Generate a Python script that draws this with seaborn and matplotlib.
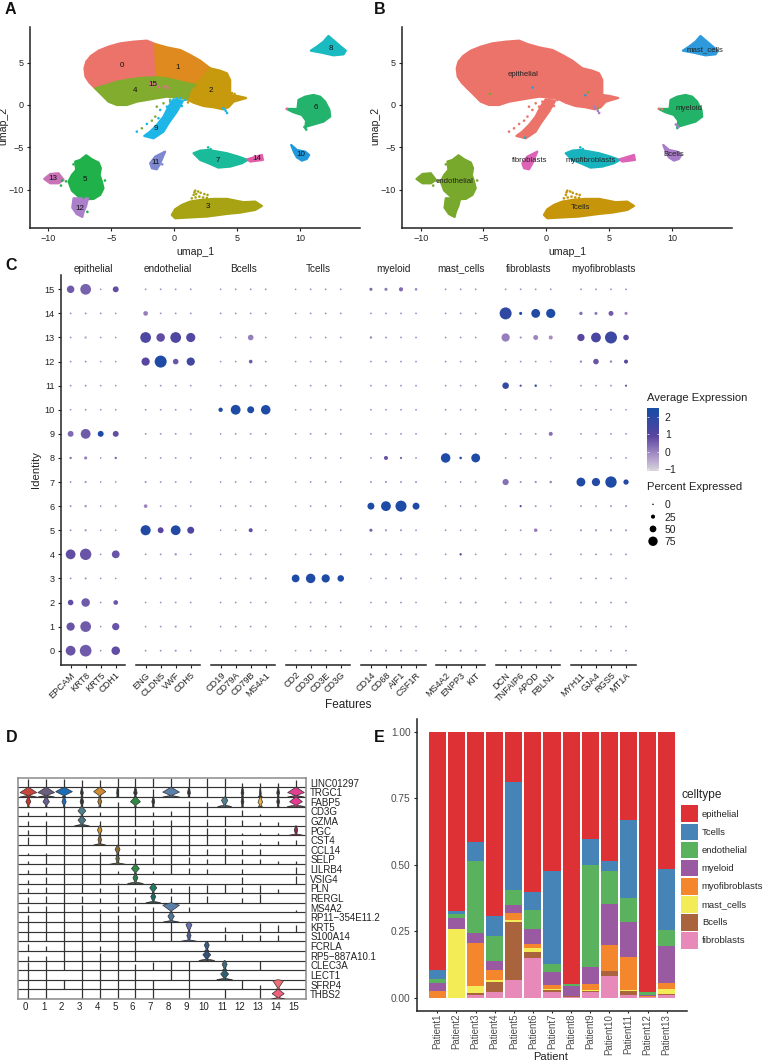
import matplotlib
matplotlib.use("Agg")
import matplotlib.pyplot as plt
import matplotlib.colors as mcolors
import numpy as np
import pandas as pd
import seaborn as sns
from matplotlib.cm import ScalarMappable
from matplotlib.patches import Patch

# umap outlines (umap_1, umap_2)
OUTLINE_0 = [(-7.13, 4.32), (-6.99, 5.10), (-6.62, 5.77), (-6.01, 6.40), (-5.22, 6.87), (-4.29, 7.26), (-3.23, 7.46), (-2.17, 7.58),
             (-1.51, 7.18), (-1.43, 3.26), (-2.44, 3.22), (-3.50, 3.02), (-4.56, 2.75), (-5.35, 2.36), (-6.28, 1.96), (-6.73, 2.63), (-7.05, 3.34)]
OUTLINE_1 = [(-1.51, 7.18), (-0.58, 6.79), (0.48, 6.48), (1.27, 5.89), (2.07, 5.22), (2.86, 4.32), (2.2, 3.14), (1.67, 2.36),
             (0.48, 2.75), (-0.58, 3.14), (-1.43, 3.26)]
OUTLINE_2 = [(2.86, 4.32), (3.66, 4.04), (4.19, 3.73), (4.45, 2.94), (4.45, 1.18), (5.03, 1.06), (5.72, 0.82), (4.72, 0.39), (4.32, -0.27),
             (3.87, -0.51), (3.13, -0.27), (2.33, -0.12), (1.54, 0.27), (1.01, 0.67), (1.27, 1.77), (1.67, 2.36), (2.2, 3.14)]
OUTLINE_3 = [(-0.19, -12.96), (0.08, -12.29), (0.61, -11.78), (1.27, -11.39), (2.07, -11.19), (3.13, -11.07), (4.19, -11.07), (5.51, -11.46),
             (6.44, -11.39), (6.97, -11.90), (6.44, -12.37), (5.25, -12.68), (4.19, -12.84), (2.6, -13.15), (1.54, -13.23), (0.08, -13.35)]
OUTLINE_4 = [(-6.28, 1.96), (-5.35, 2.36), (-4.56, 2.75), (-3.50, 3.02), (-2.44, 3.22), (-1.43, 3.26), (-0.58, 3.14), (0.48, 2.75), (1.67, 2.36),
             (1.27, 1.77), (1.01, 0.67), (0.21, 0.9), (-0.58, 0.98), (-1.38, 0.79), (-2.17, 0.59), (-2.97, 0.39), (-3.76, 0.0), (-4.56, 0.0),
             (-5.22, 0.39), (-5.75, 1.18)]
OUTLINE_5 = [(-8.40, -9.03), (-8.13, -8.25), (-7.79, -7.66), (-7.87, -6.67), (-7.47, -6.48), (-6.99, -5.93), (-6.54, -6.40), (-6.01, -6.79),
             (-5.83, -7.46), (-5.93, -8.25), (-5.75, -9.03), (-5.62, -9.82), (-5.88, -10.6), (-6.41, -11.07), (-7.07, -11.11), (-7.60, -10.8), (-8.13, -10.09)]
OUTLINE_6 = [(8.95, -0.47), (9.80, -0.47), (9.88, 0.59), (10.41, 0.98), (11.07, 1.18), (11.6, 0.98), (12.0, 0.39), (12.34, -0.59), (12.4, -1.37),
             (11.87, -1.96), (10.94, -2.36), (10.49, -2.55), (10.41, -2.75), (10.49, -1.85), (10.15, -1.18), (9.48, -0.86)]
OUTLINE_7 = [(1.54, -5.69), (2.07, -5.38), (2.73, -5.3), (4.19, -5.69), (5.11, -6.09), (5.83, -6.48), (5.38, -6.87), (4.45, -7.26), (3.52, -7.38),
             (2.73, -6.87), (2.07, -6.48)]
OUTLINE_8 = [(10.86, 6.4), (11.34, 6.87), (11.87, 7.46), (12.26, 8.13), (12.79, 7.46), (13.19, 6.95), (13.64, 6.4), (13.46, 5.97), (12.66, 5.85), (11.74, 6.16)]
OUTLINE_9 = [(-0.05, 0.67), (0.69, 0.47), (0.21, -0.79), (-0.45, -2.16), (-0.85, -3.14), (-1.64, -3.93), (-2.38, -3.65), (-1.91, -3.14), (-1.38, -2.36),
             (-0.85, -1.37), (-0.45, -0.2)]
OUTLINE_10 = [(9.3, -4.71), (9.75, -5.3), (10.41, -5.5), (10.73, -5.89), (10.54, -6.36), (10.15, -6.56), (9.75, -6.17), (9.54, -5.61)]
OUTLINE_11 = [(-1.91, -6.87), (-1.51, -6.09), (-0.72, -5.5), (-1.11, -6.87), (-1.38, -7.58), (-1.77, -7.46)]
OUTLINE_12 = [(-8.0, -11.0), (-6.85, -11.0), (-7.0, -11.9), (-7.2, -12.6), (-7.3, -13.2), (-7.75, -12.85), (-8.1, -12.1)]
OUTLINE_13 = [(-10.33, -8.72), (-9.85, -8.13), (-9.19, -8.05), (-8.79, -8.83), (-9.19, -9.23), (-9.85, -9.23)]
OUTLINE_14 = [(5.83, -6.4), (6.97, -5.89), (7.05, -6.48), (6.04, -6.67)]
OUTLINES = [OUTLINE_0, OUTLINE_1, OUTLINE_2, OUTLINE_3, OUTLINE_4, OUTLINE_5, OUTLINE_6, OUTLINE_7,
            OUTLINE_8, OUTLINE_9, OUTLINE_10, OUTLINE_11, OUTLINE_12, OUTLINE_13, OUTLINE_14]

# loose cells around the clusters: (cluster, umap_1, umap_2)
STRAY_CELLS = [
    (4, -1.38, -0.2), (4, -0.85, 0.2), (4, -1.5, -1.37), (4, -1.77, -1.85), (4, -2.57, -2.75), (4, -0.32, 0.6),
    (9, -0.32, 0.39), (9, 0.21, 0.79), (9, 0.48, 0.79), (9, 0.87, 0.59), (9, -1.11, -0.59), (9, -2.17, -2.24), (9, -2.97, -3.14),
    (9, -1.25, -1.57), (9, -0.58, -0.2), (9, -0.19, 0.0), (9, 0.61, -0.12), (9, 4.0, -0.5), (9, 4.1, -0.7), (9, 4.2, -0.95), (9, 3.9, -0.4),
    (3, 1.67, -10.1), (3, 1.9, -10.2), (3, 2.1, -10.35), (3, 2.4, -10.5), (3, 2.65, -10.6), (3, 1.55, -10.6), (3, 1.7, -10.9),
    (3, 2.0, -10.8), (3, 2.3, -10.9), (3, 2.6, -10.95), (3, 1.6, -10.3), (3, 1.4, -11.0), (3, 1.75, -10.5),
    (5, -8.9, -8.9), (5, -8.6, -9.0), (5, -9.0, -9.5), (5, -7.2, -10.9), (5, -5.5, -8.9), (5, -6.9, -12.6), (5, -8.0, -7.0),
    (15, -1.2, 2.1), (15, -0.7, 2.2), (15, -0.5, 2.0), (15, -1.8, 2.3), (15, -1.5, 2.5), (15, -1.9, 2.6), (15, 8.95, -0.45),
    (2, 5.0, 1.0), (2, 4.8, 1.3), (2, 4.6, 1.4), (2, 1.1, 0.3), (7, 2.7, -5.0), (7, 2.9, -5.2), (6, 10.5, -2.9), (6, 10.35, -2.6),
    (11, -0.8, -5.6), (11, -1.2, -7.1), (11, -0.95, -7.0),
]
STRAY_CELLS_B = [
    ("epithelial", -1.38, -0.2), ("epithelial", -0.85, 0.2), ("epithelial", -0.32, 0.39), ("epithelial", 0.21, 0.79), ("epithelial", 0.48, 0.79),
    ("epithelial", 0.87, 0.59), ("epithelial", -1.11, -0.59), ("epithelial", -2.17, -2.24), ("epithelial", -2.97, -3.14), ("epithelial", -0.58, -0.2),
    ("epithelial", -0.19, 0.0), ("epithelial", 0.61, -0.12), ("epithelial", -1.5, -1.37), ("epithelial", -1.77, -1.85), ("epithelial", -2.57, -2.75),
    ("endothelial", -4.5, 1.3), ("endothelial", 3.3, 1.5), ("endothelial", 4.1, -0.4), ("mast_cells", -1.1, 2.05), ("mast_cells", 3.1, 1.15),
    ("myofibroblasts", -1.7, -3.85), ("Bcells", 3.9, -0.4), ("Bcells", 4.1, -0.7), ("Bcells", 4.2, -0.95), ("Bcells", 3.8, -0.2),
    ("Tcells", 1.67, -10.1), ("Tcells", 1.9, -10.2), ("Tcells", 2.1, -10.35), ("Tcells", 2.4, -10.5), ("Tcells", 2.65, -10.6), ("Tcells", 1.55, -10.6),
    ("Tcells", 1.7, -10.9), ("Tcells", 2.0, -10.8), ("Tcells", 2.3, -10.9), ("Tcells", 2.6, -10.95), ("Tcells", 1.6, -10.3), ("Tcells", 1.4, -11.0),
    ("endothelial", -8.9, -8.9), ("endothelial", -8.6, -9.0), ("endothelial", -9.0, -9.5), ("endothelial", -5.5, -8.9), ("endothelial", -8.0, -7.0),
    ("epithelial", 8.95, -0.45), ("epithelial", 9.2, -0.5), ("Bcells", 10.3, -2.3), ("Bcells", 10.5, -2.6), ("Bcells", 10.4, -2.4),
    ("myofibroblasts", 2.7, -5.0), ("myofibroblasts", 2.9, -5.2),
]

CLUSTER_COLORS = ["#EC736A", "#DE8A1E", "#C69A0C", "#A8A312", "#82AC2E", "#20B14A", "#24B36C", "#1ABB9B",
                  "#1ABAC1", "#1EB6E6", "#2198DC", "#7D88D0", "#AB7FC9", "#C873B8", "#E25CA8", "#F064A0"]
CLUSTER_LABEL_POS = {"0": (-4.13, 4.71), "1": (0.29, 4.4), "15": (-1.67, 2.47), "4": (-3.13, 1.73), "2": (2.91, 1.65), "9": (-1.46, -2.75),
                     "6": (11.26, -0.31), "8": (12.48, 6.64), "10": (10.07, -5.81), "7": (3.5, -6.56), "14": (6.57, -6.36), "11": (-1.51, -6.75),
                     "13": (-9.67, -8.72), "5": (-7.07, -8.83), "12": (-7.52, -12.17), "3": (2.68, -11.97)}

CELLTYPE_COLORS = {"epithelial": "#EC736A", "Tcells": "#C6950A", "endothelial": "#78A82C", "myeloid": "#22B268",
                   "myofibroblasts": "#17B4BE", "mast_cells": "#2E9ADC", "Bcells": "#A87CC8", "fibroblasts": "#DE62B6"}
CELLTYPE_CLUSTERS = {"epithelial": [0, 1, 2, 4, 9], "Tcells": [3], "endothelial": [5, 12, 13], "myeloid": [6],
                     "myofibroblasts": [7], "mast_cells": [8], "Bcells": [10], "fibroblasts": [11, 14]}
CELLTYPE_LABEL_POS = {"epithelial": (-1.86, 3.65), "mast_cells": (12.59, 6.56), "myeloid": (11.34, -0.39), "Bcells": (10.12, -5.89),
                      "fibroblasts": (-1.35, -6.6), "myofibroblasts": (3.56, -6.6), "endothelial": (-7.28, -9.07), "Tcells": (2.74, -12.05)}

# dot plot
DOT_GROUPS = ["epithelial", "endothelial", "Bcells", "Tcells", "myeloid", "mast_cells", "fibroblasts", "myofibroblasts"]
DOT_GENES = [["EPCAM", "KRT8", "KRT5", "CDH1"], ["ENG", "CLDN5", "VWF", "CDH5"], ["CD19", "CD79A", "CD79B", "MS4A1"],
             ["CD2", "CD3D", "CD3E", "CD3G"], ["CD14", "CD68", "AIF1", "CSF1R"], ["MS4A2", "ENPP3", "KIT"],
             ["DCN", "TNFAIP6", "APOD", "FBLN1"], ["MYH11", "GJA4", "RGS5", "MT1A"]]
# rows are identities 0..15, columns follow DOT_GENES
DOT_PCT = [
    [79, 97, 2, 67, 3, 3, 5, 3, 2, 3, 3, 2, 2, 3, 3, 3, 3, 3, 3, 3, 3, 5, 4, 3, 3, 2, 4, 3, 3, 3, 3],
    [64, 88, 2, 55, 2, 3, 5, 3, 2, 3, 3, 2, 2, 3, 3, 3, 3, 3, 3, 3, 3, 5, 4, 3, 4, 3, 4, 3, 3, 3, 3],
    [39, 67, 2, 30, 2, 2, 3, 3, 2, 3, 2, 2, 2, 3, 3, 3, 2, 3, 3, 2, 3, 5, 4, 3, 3, 3, 4, 3, 3, 3, 3],
    [3, 5, 2, 2, 3, 3, 3, 3, 2, 3, 5, 4, 60, 76, 64, 48, 2, 3, 5, 2, 3, 4, 3, 3, 3, 3, 3, 3, 3, 3, 2],
    [79, 94, 2, 60, 3, 3, 8, 3, 2, 3, 3, 2, 2, 3, 3, 3, 3, 3, 3, 3, 3, 8, 3, 3, 3, 3, 4, 3, 3, 3, 3],
    [3, 6, 2, 2, 82, 42, 79, 52, 2, 3, 24, 3, 2, 3, 3, 3, 15, 6, 5, 3, 3, 3, 3, 3, 3, 20, 3, 5, 6, 6, 5],
    [4, 10, 2, 3, 21, 3, 3, 3, 2, 3, 3, 3, 2, 3, 3, 3, 52, 79, 91, 52, 3, 3, 3, 3, 6, 4, 3, 3, 3, 4, 5],
    [3, 6, 2, 2, 5, 3, 3, 3, 2, 3, 3, 3, 2, 3, 3, 3, 4, 5, 4, 4, 3, 3, 3, 45, 5, 7, 9, 70, 64, 94, 36],
    [8, 15, 2, 8, 3, 3, 3, 3, 2, 3, 3, 3, 2, 3, 3, 3, 3, 24, 7, 3, 76, 10, 70, 3, 3, 3, 3, 3, 3, 3, 3],
    [42, 79, 42, 42, 3, 3, 3, 3, 2, 3, 3, 3, 2, 3, 3, 3, 3, 3, 3, 3, 3, 3, 3, 3, 3, 3, 24, 3, 3, 3, 3],
    [2, 3, 2, 2, 3, 3, 3, 3, 27, 79, 52, 76, 2, 3, 3, 3, 3, 3, 3, 3, 3, 3, 3, 3, 3, 3, 3, 3, 3, 3, 2],
    [3, 4, 2, 2, 3, 3, 3, 3, 3, 3, 3, 3, 2, 3, 3, 3, 3, 3, 3, 3, 3, 3, 3, 48, 7, 9, 3, 3, 3, 3, 6],
    [3, 4, 2, 2, 64, 100, 39, 64, 2, 3, 21, 3, 2, 3, 3, 3, 3, 3, 3, 3, 3, 3, 3, 3, 3, 3, 2, 7, 39, 8, 24],
    [3, 10, 2, 2, 88, 67, 88, 73, 2, 3, 39, 3, 2, 3, 3, 3, 8, 4, 3, 3, 3, 3, 3, 64, 5, 33, 24, 55, 79, 100, 39],
    [3, 4, 3, 2, 30, 3, 3, 3, 3, 3, 3, 3, 2, 3, 3, 3, 3, 3, 3, 3, 3, 3, 3, 100, 15, 70, 73, 18, 15, 33, 15],
    [57, 88, 2, 42, 3, 3, 3, 3, 2, 3, 3, 3, 2, 3, 3, 3, 15, 15, 25, 10, 3, 3, 3, 3, 3, 3, 3, 3, 3, 3, 3],
]
l = 0.0  # faint background expression level
DOT_AVG = [
    [.8, .7, l, .9, l, l, l, l, l, l, l, l, l, l, l, l, l, l, l, l, l, l, l, l, l, l, l, l, l, l, l],
    [.8, .7, l, .8, l, l, l, l, l, l, l, l, l, l, l, l, l, l, l, l, l, l, l, l, l, l, l, l, l, l, l],
    [.9, .7, l, .8, l, l, l, l, l, l, l, l, l, l, l, l, l, l, l, l, l, l, l, l, l, l, l, l, l, l, l],
    [l, l, l, l, l, l, l, l, l, l, l, l, 2.4, 2.4, 2.4, 2.4, l, l, l, l, l, l, l, l, l, l, l, l, l, l, l],
    [.9, .8, l, .8, l, l, l, l, l, l, l, l, l, l, l, l, l, l, l, l, l, 1.2, l, l, l, l, l, l, l, l, l],
    [l, l, l, l, 2.3, 1.0, 2.3, 1.3, l, l, .9, l, l, l, l, l, .6, l, l, l, l, l, l, l, l, .2, l, l, l, l, l],
    [l, -.2, l, l, .1, l, l, l, l, l, l, l, l, l, l, l, 2.4, 2.4, 2.4, 2.4, l, l, l, l, 1.5, l, l, l, l, l, l],
    [l, l, l, l, l, l, l, l, l, l, l, l, l, l, l, l, l, l, l, l, l, l, l, .4, l, l, .2, 2.3, 2.2, 2.4, 2.2],
    [.4, .2, l, .6, l, l, l, l, l, l, l, l, l, l, l, l, l, .8, .6, l, 2.4, 2.0, 2.4, l, l, l, l, l, l, l, l],
    [.5, .7, 2.4, .9, l, l, l, l, l, l, l, l, l, l, l, l, l, l, l, l, l, l, l, l, l, l, .4, l, l, l, l],
    [l, l, l, l, l, l, l, l, 2.4, 2.4, 2.4, 2.4, l, l, l, l, l, l, l, l, l, l, l, l, l, l, l, l, l, l, l],
    [l, l, l, l, l, l, l, l, l, l, l, l, l, l, l, l, l, l, l, l, l, l, l, 1.9, .9, 1.9, l, l, l, l, .9],
    [l, l, l, l, 1.0, 2.4, .8, 1.6, l, l, .7, l, l, l, l, l, l, l, l, l, l, l, l, l, l, l, l, .2, .8, .2, 1.0],
    [l, -.5, l, l, 1.3, .9, 1.3, 1.2, l, l, .2, l, l, l, l, l, .2, l, l, l, l, l, l, .2, .1, .1, 0, 1.0, 1.4, 1.7, 1.1],
    [l, l, l, l, .2, l, l, l, l, l, l, l, l, l, l, l, l, l, l, l, l, l, l, 2.0, 2.4, 2.3, 2.4, .4, .3, .7, .2],
    [.7, .6, l, .9, l, l, l, l, l, l, l, l, l, l, l, l, .5, .3, .5, .2, l, l, l, l, l, l, l, l, l, l, l],
]
PCT_LEVELS = [0, 25, 50, 75]
EXPR_COLORS = ["#DAD6DE", "#A48CC4", "#5A46A0", "#1A4BA5"]
EXPR_STOPS = [-1, 0, 1, 2.5]

# stacked violins: stem height (fraction of row) for clusters 0..15
VIOLIN_GENES = ["LINC01297", "TRGC1", "FABP5", "CD3G", "GZMA", "PGC", "CST4", "CCL14", "SELP", "LILRB4", "VSIG4", "PLN", "RERGL",
                "MS4A2", "RP11\u2212354E11.2", "KRT5", "S100A14", "FCRLA", "RP5\u2212887A10.1", "CLEC3A", "LECT1", "SFRP4", "THBS2"]
VIOLIN_STEMS = [
    [.9, .9, .9, .8, .8, 1, 1, 1, 1, 1, 1, 1, .5, .4, .4, .8],
    [1, 1, 1, .5, 1, .9, .9, .8, 1, .9, 1, 1, .5, .5, .5, 1],
    [1, 1, 1, .5, 1, .5, 1, .7, 0, .6, .5, 1, .6, 1, .6, 1],
    [.4, .4, 1, 1, .4, 1, 1, .4, .5, 1, 1, 0, .6, .2, 0, 0],
    [.5, .5, 1, 1, .5, 1, 1, .6, .6, 1, .7, 1, .6, .4, .4, 0],
    [.6, 1, 1, 1, 1, 1, .7, .8, 1, 1, .8, .8, .3, .3, .3, 1],
    [.8, 1, 1, 1, 1, 1, .7, .8, 1, 1, 1, 1, .5, .2, .4, .5],
    [.2, .2, 1, 1, .3, 1, .6, 1, 1, 1, .6, .7, .6, .6, 0, 0],
    [.3, 1, 1, 1, 1, 1, .7, .8, 1, .8, .6, 1, .5, .6, .3, .3],
    [.4, .7, 1, 1, 1, .3, 1, .3, 1, .6, .5, 0, .5, 0, 0, .7],
    [.4, .7, 1, 1, 1, .1, 1, .1, 0, 0, 0, 0, .7, 0, 0, .8],
    [.5, .6, 1, 1, .5, .8, .5, 1, .5, .7, .8, 1, .6, .9, .4, 0],
    [.6, .7, 1, .7, .5, .9, .6, 1, .7, 1, .7, 0, .5, .9, 0, 0],
    [.7, .7, 1, .8, .4, .7, .7, .6, 1, .6, 0, 0, 0, 0, 0, .2],
    [.7, 1, 1, 1, .9, .7, .7, 1, 1, 0, 0, 0, 0, 0, 0, 0],
    [1, 1, 1, 1, .9, 1, 1, 1, 1, 1, 0, .5, 0, .9, .7, .7],
    [1, 1, 1, 1, 1, 1, 1, 1, 1, 1, 0, .8, .8, .6, .6, 0],
    [.7, .5, 1, 1, .5, 1, 1, 0, 0, 0, 1, 0, 0, 0, 0, 0],
    [.5, .5, 1, 1, .8, 1, 1, 0, 0, 0, 1, 0, 0, 0, 0, 0],
    [.8, 1, 1, 1, 1, 1, .6, .8, 1, 1, 0, 1, 0, 1, 0, 0],
    [1, 1, 0, 1, 1, 1, 1, 0, 1, 1, 0, 1, 0, 0, 0, 0],
    [1, 1, 1, 1, 1, 1, 1, 1, 0, 1, 0, 0, 1, .5, 1, 0],
    [1, 1, 0, 1, 1, 1, 1, 1, 0, 1, 0, 1, 0, 1, 1, 0],
]
# bulges: row, cluster, colour, half width at the base, half width of the body, body height
VIOLIN_BULGES = [
    (1, 0, "#C8453C", .47, .47, .45), (1, 1, "#6A5E7E", .47, .47, .45), (1, 2, "#1B6EB5", .1, .47, .55), (1, 4, "#D08A30", .05, .34, .55),
    (1, 8, "#5A7FA8", .47, .47, .5), (1, 15, "#E0408F", .47, .47, .45), (1, 5, "#333333", .05, .05, .4), (1, 6, "#333333", .05, .1, .4), (1, 9, "#333333", .05, .08, .4),
    (1, 3, "#333333", .05, .08, .4), (1, 12, "#333333", .05, .08, .4), (1, 13, "#333333", .12, .05, .3), (1, 14, "#333333", .05, .08, .4),
    (2, 0, "#C8352C", .05, .14, .5), (2, 1, "#6A5E8E", .05, .18, .5), (2, 2, "#1B6EB5", .05, .12, .5), (2, 3, "#333333", .05, .1, .5), (2, 4, "#A87A30", .05, .11, .5),
    (2, 6, "#2E8B45", .05, .28, .5), (2, 7, "#333333", .05, .08, .5), (2, 11, "#4F8090", .4, .18, .65), (2, 12, "#333333", .05, .08, .5),
    (2, 13, "#E8B040", .12, .13, .45), (2, 14, "#333333", .05, .08, .5), (2, 15, "#E83A90", .5, .36, .5),
    (3, 3, "#4F8090", .05, .22, .55), (4, 3, "#4F7585", .42, .22, .6),
    (5, 4, "#C89030", .05, .13, .55), (5, 15, "#8A2A4A", .45, .1, .55), (6, 4, "#8A6A2E", .35, .1, .55),
    (7, 5, "#8A6A2E", .05, .14, .55), (8, 5, "#6A6A3E", .45, .1, .6),
    (9, 6, "#2E8B45", .05, .22, .55), (10, 6, "#2E7B45", .45, .14, .6),
    (11, 7, "#1B7A62", .05, .2, .55), (12, 7, "#1B6A62", .42, .14, .65),
    (13, 8, "#5A7FA8", .05, .47, .75), (14, 8, "#4F7598", .45, .18, .6),
    (15, 9, "#6A70B0", .05, .17, .72), (16, 9, "#4F5F98", .45, .12, .6),
    (17, 10, "#3B5A8A", .12, .14, .6), (18, 10, "#34507A", .45, .22, .6),
    (19, 11, "#3F6B7A", .12, .14, .6), (20, 11, "#2F6070", .45, .22, .6),
    (21, 14, "#F0707A", .1, .3, .9), (22, 14, "#F0607A", .4, .34, .55),
]
VIOLIN_XLABELS = [str(i) for i in range(16)]

# composition per patient
PATIENTS = [f"Patient{i}" for i in range(1, 14)]
CELLTYPES = ["epithelial", "Tcells", "endothelial", "myeloid", "myofibroblasts", "mast_cells", "Bcells", "fibroblasts"]
STACK_COLORS = ["#DD3136", "#4683B7", "#5AB25E", "#9A5AA1", "#F4862D", "#F3EC57", "#A9633D", "#E78AB9"]
epithelial = [.897, .674, .415, .693, .188, .604, .522, .948, .403, .487, .33, .978, .517]
tcells = [.034, .011, .069, .075, .405, .066, .353, .001, .099, .038, .296, .001, .228]
endothelial = [.015, .015, .271, .093, .057, .072, .027, .006, .384, .122, .088, .011, .059]
myeloid = [.03, .043, .038, .035, .031, .055, .052, .037, .063, .156, .133, .005, .141]
myofibroblasts = [.024, 0, .163, .039, .027, .016, .012, 0, .022, .097, .123, .002, .022]
mast_cells = [0, .257, .028, .005, .006, .014, .004, .0025, .005, 0, .005, .001, .019]
bcells = [0, 0, .005, .04, .218, .024, .007, .001, .001, .018, .016, 0, .004]
fibroblasts = [0, 0, .011, .02, .068, .149, .023, .004, .023, .082, .009, .002, .01]
SHARES = [epithelial, tcells, endothelial, myeloid, myofibroblasts, mast_cells, bcells, fibroblasts]

W, H = 763, 1063
sns.set_theme(style="ticks")
plt.rcParams["font.family"] = ["Liberation Sans", "DejaVu Sans"]
plt.rcParams["axes.unicode_minus"] = True
DARK = "#222222"
fig = plt.figure(figsize=(W / 100, H / 100), dpi=100)


def px_axes(left, top, right, bottom):
    return fig.add_axes([left / W, 1 - bottom / H, (right - left) / W, (bottom - top) / H])


def px_text(x, y, s, **kw):
    fig.text(x / W, 1 - y / H, s, **kw)


def style_umap(ax):
    ax.set_xlim(-11.46, 14.77)
    ax.set_ylim(-14.5, 9.19)
    ax.set_xticks([-10, -5, 0, 5, 10])
    ax.set_yticks([-10, -5, 0, 5])
    ax.set_xlabel("umap_1", fontsize=7.6, color=DARK)
    ax.set_ylabel("umap_2", fontsize=7.6, color=DARK)
    ax.xaxis.set_label_coords(0.5, -0.095)
    ax.yaxis.set_label_coords(-0.066, 0.51)
    ax.tick_params(labelsize=6.5, length=2.5, width=0.8, pad=2, colors=DARK)
    for side in ["left", "bottom"]:
        ax.spines[side].set_linewidth(1.1)
        ax.spines[side].set_color(DARK)
    sns.despine(ax=ax)


# A: clusters
ax_a = px_axes(30, 27, 360, 228)
for i, outline in enumerate(OUTLINES):
    xy = np.array(outline)
    ax_a.fill(xy[:, 0], xy[:, 1], color=CLUSTER_COLORS[i], lw=1.6, joinstyle="round")
stray = pd.DataFrame(STRAY_CELLS, columns=["cluster", "umap_1", "umap_2"])
sns.scatterplot(data=stray, x="umap_1", y="umap_2", hue="cluster", palette={c: CLUSTER_COLORS[c] for c in stray["cluster"].unique()},
                s=3.5, linewidth=0, legend=False, ax=ax_a)
for name, (x, y) in CLUSTER_LABEL_POS.items():
    ax_a.text(x, y, name, fontsize=5.8, ha="center", va="center", color="#111111")
style_umap(ax_a)

# B: cell types
ax_b = px_axes(402.3, 27, 732, 228)
for celltype, clusters in CELLTYPE_CLUSTERS.items():
    for c in clusters:
        xy = np.array(OUTLINES[c])
        ax_b.fill(xy[:, 0], xy[:, 1], color=CELLTYPE_COLORS[celltype], lw=1.6, joinstyle="round")
stray_b = pd.DataFrame(STRAY_CELLS_B, columns=["celltype", "umap_1", "umap_2"])
sns.scatterplot(data=stray_b, x="umap_1", y="umap_2", hue="celltype", palette=CELLTYPE_COLORS, s=3.5, linewidth=0, legend=False, ax=ax_b)
for name, (x, y) in CELLTYPE_LABEL_POS.items():
    ax_b.text(x, y, name, fontsize=5.6, ha="center", va="center", color="#222222")
style_umap(ax_b)

# C: dot plot, one axes per gene group
expr_cmap = mcolors.LinearSegmentedColormap.from_list(
    "expr", [((s + 1) / 3.5, c) for s, c in zip(EXPR_STOPS, EXPR_COLORS)])


def pct_area(p):
    # dot diameter is linear in percent, as in scale_radius
    return ((1.5 + 0.105 * p) * 0.72) ** 2


facet_lefts = [61, 136, 211, 286, 361.3, 436, 496, 571.3]
start = 0
for g, (group, genes) in enumerate(zip(DOT_GROUPS, DOT_GENES)):
    n = len(genes)
    left = facet_lefts[g]
    ax = px_axes(left, 275, left + 15.05 * (n - 1) + 19.2, 665)
    rows = []
    for identity in range(16):
        for j, gene in enumerate(genes):
            rows.append({"gene": gene, "identity": identity,
                         "pct": DOT_PCT[identity][start + j], "avg": DOT_AVG[identity][start + j]})
    df_dot = pd.DataFrame(rows)
    sns.scatterplot(data=df_dot, x="gene", y="identity", size="pct", sizes={p: pct_area(p) for p in df_dot["pct"].unique()},
                    hue="avg", palette=expr_cmap, hue_norm=(-1, 2.5), linewidth=0, legend=False, ax=ax, clip_on=False)
    ax.set_xlim(-0.64, n - 1 + 0.64)
    ax.set_ylim(-0.594, 15.594)
    ax.set_xlabel("")
    ax.set_ylabel("")
    ax.set_yticks(range(16))
    ax.set_xticks(range(n))
    ax.set_xticklabels(genes, rotation=45, ha="right", rotation_mode="anchor", fontsize=6.6, color=DARK)
    ax.tick_params(axis="x", length=2.5, width=0.8, pad=1.5, colors=DARK)
    ax.tick_params(axis="y", labelsize=6.6, length=2.5, width=0.8, pad=2, colors=DARK)
    ax.set_title(group, fontsize=7.2, pad=2.5, color=DARK)
    ax.spines["bottom"].set_linewidth(1.1)
    ax.spines["bottom"].set_color(DARK)
    sns.despine(ax=ax)
    if g == 0:
        ax.spines["left"].set_linewidth(1.1)
        ax.spines["left"].set_color(DARK)
    else:
        ax.spines["left"].set_visible(False)
        ax.tick_params(axis="y", left=False, labelleft=False)
    start += n
px_text(348, 705, "Features", fontsize=8.5, ha="center", va="center", color=DARK)
px_text(36, 470, "Identity", fontsize=8.2, ha="center", va="center", rotation=90, color=DARK)

# colour and size legends for C
px_text(647, 398, "Average Expression", fontsize=8.1, ha="left", va="center", color=DARK)
cax = px_axes(646.7, 408, 659.3, 470.7)
norm = mcolors.Normalize(-1, 2.5)
cbar = fig.colorbar(ScalarMappable(norm=norm, cmap=expr_cmap), cax=cax)
cbar.solids.set_edgecolor("face")
cax.set_ylim(-1.08, 2.52)
cbar.set_ticks([-1, 0, 1, 2])
cbar.set_ticklabels(["\u22121", "0", "1", "2"])
cbar.outline.set_visible(False)
cax.tick_params(length=0, labelsize=7.5, pad=4, colors=DARK)
cax.hlines([-1, 0, 1, 2], 0, 0.2, color="white", lw=0.5)
cax.hlines([-1, 0, 1, 2], 0.8, 1, color="white", lw=0.5)

px_text(647, 487, "Percent Expressed", fontsize=8.1, ha="left", va="center", color=DARK)
lax = px_axes(646.7, 498.2, 659.3, 547.4)
legend_df = pd.DataFrame({"pct": PCT_LEVELS, "x": [0] * len(PCT_LEVELS), "y": [-i for i in range(len(PCT_LEVELS))]})
sns.scatterplot(data=legend_df, x="x", y="y", size="pct", sizes={p: pct_area(p) for p in PCT_LEVELS},
                color="black", linewidth=0, legend=False, ax=lax, clip_on=False)
lax.set_xlim(-1, 1)
lax.set_ylim(-3.5, 0.5)
lax.set_xticks([])
lax.set_xlabel("")
lax.set_ylabel("")
lax.yaxis.tick_right()
lax.set_yticks(legend_df["y"])
lax.set_yticklabels(PCT_LEVELS)
lax.tick_params(axis="y", length=0, labelsize=7.5, pad=4, colors=DARK)
lax.patch.set_alpha(0)
for s in lax.spines.values():
    s.set_visible(False)

# D: stacked violins
ax_d = px_axes(18, 777.7, 306, 999)
n_rows = len(VIOLIN_GENES)
for r, stems in enumerate(VIOLIN_STEMS):
    base = n_rows - 1 - r
    ax_d.axhline(base, color="#333333", lw=0.85, zorder=1)
    ax_d.vlines(range(16), base, [base + h for h in stems], color="#333333", lw=0.9, zorder=2)
for r, c, color, w_base, w_body, body in VIOLIN_BULGES:
    base = n_rows - 1 - r
    heights = [0, 0.15, body, 1]
    widths = [w_base, 0.03, w_body, 0.02]
    ys = [base + h for h in heights] + [base + h for h in heights[::-1]]
    xs = [c - w for w in widths] + [c + w for w in widths[::-1]]
    ax_d.fill(xs, ys, facecolor=color, edgecolor="#333333", lw=0.5, zorder=3)
ax_d.set_xlim(-0.58, 15.56)
ax_d.set_ylim(0, n_rows)
ax_d.set_xticks(np.arange(16) - 0.15)
ax_d.set_xticklabels(VIOLIN_XLABELS, fontsize=7, color=DARK)
ax_d.yaxis.tick_right()
ax_d.set_yticks(np.arange(n_rows) + 0.5)
ax_d.set_yticklabels(VIOLIN_GENES[::-1], fontsize=7, color=DARK)
ax_d.tick_params(length=0, pad=3)
ax_d.tick_params(axis="x", pad=2)
for s in ax_d.spines.values():
    s.set_color("#8A8A8A")
    s.set_linewidth(1.1)

# E: stacked composition bars
ax_e = px_axes(416.7, 718.7, 687.3, 1011)
df_share = pd.DataFrame(dict(zip(CELLTYPES, SHARES)), index=PATIENTS).rename_axis("Patient").reset_index()
df_share = df_share.melt(id_vars="Patient", var_name="celltype", value_name="share")
sns.histplot(data=df_share, x="Patient", weights="share", hue="celltype", hue_order=CELLTYPES,
             palette=STACK_COLORS, multiple="stack", discrete=True, shrink=0.9, alpha=1, linewidth=0, legend=False, ax=ax_e)
ax_e.set_xlim(-1.08, 13.08)
ax_e.set_ylim(-0.05, 1.05)
ax_e.set_yticks([0, 0.25, 0.5, 0.75, 1.0])
ax_e.set_yticklabels(["0.00", "0.25", "0.50", "0.75", "1.00"])
ax_e.set_ylabel("")
ax_e.set_xlabel("")
ax_e.tick_params(axis="y", labelsize=7.3, length=2.5, width=0.8, pad=2, labelcolor="#4D4D4D")
ax_e.tick_params(axis="x", labelsize=7, length=1.5, width=0.8, pad=0.5, labelcolor="#4D4D4D", labelrotation=90)
px_text(551, 1057, "Patient", fontsize=8, ha="center", va="center", color=DARK)
for side in ["left", "bottom"]:
    ax_e.spines[side].set_linewidth(1.1)
    ax_e.spines[side].set_color(DARK)
sns.despine(ax=ax_e)
handles = [Patch(facecolor=c, edgecolor="none") for c in STACK_COLORS]
leg = fig.legend(handles, CELLTYPES, loc="upper left", bbox_to_anchor=(681 / W, 1 - 789 / H), frameon=False, fontsize=6.8, title="celltype",
                 title_fontsize=8.6, handlelength=1.76, handleheight=2.34, labelspacing=0.15, handletextpad=0.45, borderpad=0, borderaxespad=0)
leg._legend_box.align = "left"
leg._legend_box.sep = 3.2

for letter, x, y in [("A", 5, 9), ("B", 374, 9), ("C", 5, 265), ("D", 6, 738), ("E", 374, 738)]:
    px_text(x, y, letter, fontsize=11.5, fontweight="bold", ha="left", va="center", color="#111111")

fig.savefig("out.png", dpi=100)
